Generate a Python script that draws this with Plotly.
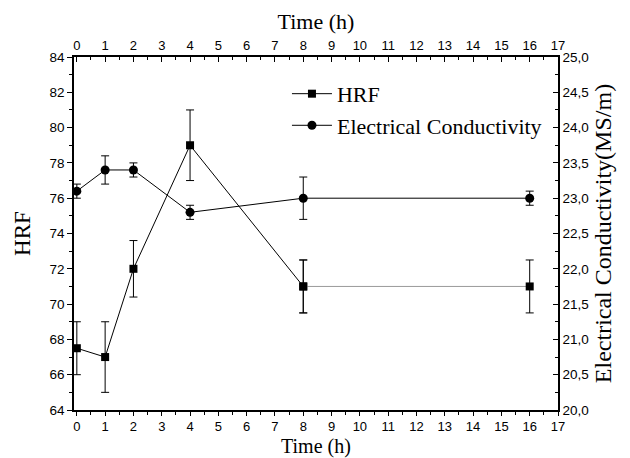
import plotly.graph_objects as go

time_h = [0, 1, 2, 4, 8, 16]
hrf = [67.5, 67.0, 72.0, 79.0, 71.0, 71.0]
hrf_err = [1.5, 2.0, 1.6, 2.0, 1.5, 1.5]
cond = [23.1, 23.4, 23.4, 22.8, 23.0, 23.0]
cond_err = [0.1, 0.2, 0.1, 0.1, 0.3, 0.1]
x_ticks = list(range(0, 18))
hrf_ticks = list(range(64, 85, 2))
cond_ticks = [20.0 + 0.5 * i for i in range(11)]

serif = "Liberation Serif"
sans = "Liberation Sans"

fig = go.Figure()

fig.add_trace(go.Scatter(
    x=time_h[:5], y=hrf[:5], mode="lines+markers", name="HRF",
    line=dict(color="black", width=1),
    marker=dict(symbol="square", size=8, color="black"),
    error_y=dict(type="data", array=hrf_err[:5], color="black", thickness=1, width=4),
    xaxis="x", yaxis="y", showlegend=True,
))
fig.add_trace(go.Scatter(
    x=time_h[4:], y=hrf[4:], mode="lines+markers", name="HRF",
    line=dict(color="#9a9a9a", width=1),
    marker=dict(symbol="square", size=8, color="black"),
    error_y=dict(type="data", array=hrf_err[4:], color="black", thickness=1, width=4),
    xaxis="x", yaxis="y", showlegend=False,
))
fig.add_trace(go.Scatter(
    x=time_h, y=cond, mode="lines+markers", name="Electrical Conductivity",
    line=dict(color="black", width=1),
    marker=dict(symbol="circle", size=9, color="black"),
    error_y=dict(type="data", array=cond_err, color="black", thickness=1, width=4),
    xaxis="x", yaxis="y2",
))
fig.add_trace(go.Scatter(x=[time_h[0]], y=[hrf[0]], mode="markers",
                         marker=dict(opacity=0), xaxis="x2", yaxis="y",
                         showlegend=False, hoverinfo="skip"))

tickfont = dict(family=sans, size=13.5, color="black")
xtickfont = dict(family=sans, size=13, color="black")

fig.update_layout(
    width=630, height=458,
    margin=dict(l=74, r=72, t=57, b=48, autoexpand=False),
    paper_bgcolor="white", plot_bgcolor="white",
    separators=", ",
    showlegend=True,
    legend=dict(x=0.44, y=0.955, xanchor="left", yanchor="top",
                font=dict(family=serif, size=22, color="black"),
                bgcolor="rgba(0,0,0,0)", itemwidth=40, tracegroupgap=0),
    xaxis=dict(range=[-0.1, 17], tickvals=x_ticks, ticks="outside", ticklen=4,
               tickcolor="black", tickfont=xtickfont, showline=True, linecolor="black",
               linewidth=1.5, showgrid=False, zeroline=False, automargin=False,
               minor=dict(dtick=0.5, ticklen=3, ticks="outside", tickcolor="black")),
    xaxis2=dict(range=[-0.1, 17], overlaying="x", side="top", anchor="y",
                tickvals=x_ticks, ticks="inside", ticklen=5, tickcolor="black",
                tickfont=xtickfont, showline=True, linecolor="black", linewidth=1.5,
                showgrid=False, zeroline=False, automargin=False,
                minor=dict(dtick=0.5, ticklen=3, ticks="inside", tickcolor="black"),
                title=dict(text="Time (h)", font=dict(family=serif, size=22, color="black"),
                           standoff=2)),
    yaxis=dict(range=[64, 84], tickvals=hrf_ticks, ticks="outside", ticklen=5,
               tickcolor="black", tickfont=tickfont, showline=True, linecolor="black",
               linewidth=1.5, showgrid=False, zeroline=False, automargin=False,
               minor=dict(dtick=1, ticklen=3, ticks="outside", tickcolor="black"),
               title=dict(text="HRF", font=dict(family=serif, size=23, color="black"),
                          standoff=12)),
    yaxis2=dict(range=[20, 25], overlaying="y", side="right", anchor="x",
                tickvals=cond_ticks, tickformat=".1f", ticks="inside", ticklen=5,
                tickcolor="black", tickfont=tickfont, showline=True, linecolor="black",
                linewidth=1.5, showgrid=False, zeroline=False, automargin=False,
                minor=dict(dtick=0.25, ticklen=3, ticks="inside", tickcolor="black"),
                title=dict(text="Electrical Conductivity(MS/m)",
                           font=dict(family=serif, size=24, color="black"), standoff=6)),
    annotations=[dict(text="Time (h)", xref="paper", yref="paper", x=0.5, y=-0.102,
                      xanchor="center", yanchor="middle", showarrow=False, borderpad=0,
                      font=dict(family=serif, size=20, color="black"))],
)

fig.write_html("out.html")
